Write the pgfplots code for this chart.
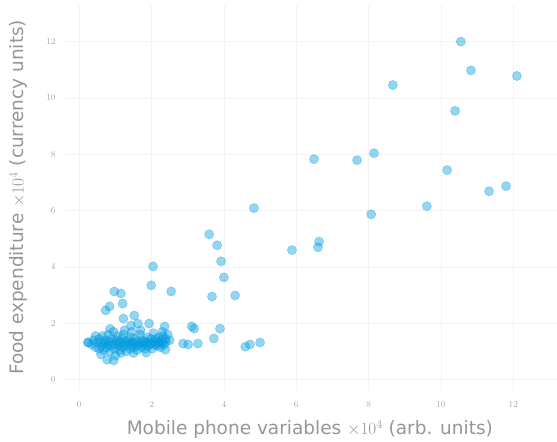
\documentclass[border=0pt]{standalone}
\usepackage{pgfplots}
\pgfplotsset{compat=1.18}
\usepackage{fontspec}
\setmainfont{DejaVu Sans}
\definecolor{pt}{RGB}{0,155,222}
\definecolor{lab}{RGB}{150,150,150}
\definecolor{tck}{RGB}{165,165,165}
\definecolor{grd}{RGB}{243,243,243}
\begin{document}
\begin{tikzpicture}
\begin{axis}[
  scale only axis,
  width=494pt, height=385pt,
  xmin=-0.45, xmax=13.2, ymin=-0.36, ymax=13.3,
  axis line style={draw=none},
  xtick={0,2,...,12}, ytick={0,2,...,12},
  major tick length=0pt,
  grid=major,
  major grid style={grd, line width=0.6pt},
  tick label style={font=\fontsize{9}{9}\selectfont\rmfamily, text=tck},
  xticklabel style={yshift=-8pt},
  yticklabel style={xshift=-4pt},
  xlabel={Mobile phone variables $\times10^4$ (arb. units)},
  ylabel={Food expenditure $\times10^4$ (currency units)},
  label style={font=\fontsize{18.5}{20}\selectfont, text=lab},
  xlabel style={at={(axis description cs:0.5,0)}, anchor=north, yshift=-27pt},
  ylabel style={at={(axis description cs:0,0.5)}, anchor=south, yshift=32pt},
]
\addplot[only marks, mark=*, mark size=4.6pt,
  mark options={fill=pt, draw=pt, fill opacity=0.42, draw opacity=0.35, line width=0.6pt}]
coordinates {
(10.55,12.0) (10.83,10.98) (12.1,10.78) (8.67,10.46) (10.39,9.54)
(6.49,7.83) (7.68,7.79) (8.15,8.04) (10.17,7.44) (11.33,6.69) (11.8,6.87)
(9.61,6.16) (8.07,5.87) (4.83,6.09) (5.88,4.6) (6.63,4.9) (6.6,4.7)
(3.59,5.16) (3.81,4.77) (3.92,4.2) (4.0,3.63) (3.67,2.95) (4.31,2.99)
(3.89,1.81) (3.72,1.46) (2.04,4.02) (1.99,3.35) (2.54,3.13)
(3.11,1.89) (3.18,1.81) (2.87,1.28) (3.01,1.25) (3.28,1.28)
(4.59,1.17) (4.72,1.25) (5.0,1.32)
(0.97,3.13) (1.15,3.06) (1.2,2.7) (0.73,2.46) (0.84,2.6) (1.22,2.17)
(1.52,2.28) (1.43,1.92) (1.62,1.99) (1.93,1.99) (2.36,1.89)
(0.77,0.71) (0.95,0.68) (0.24,1.32) (2.38,1.07) (1.85,0.96)
(0.25,1.32) (0.35,1.25) (0.4,1.4) (0.45,1.15) (0.5,1.3) (0.55,1.45)
(0.55,1.1) (0.6,1.35) (0.62,1.2) (0.65,1.55) (0.68,1.05) (0.7,1.3)
(0.72,1.4) (0.75,1.15) (0.78,1.25) (0.8,1.6) (0.82,1.35) (0.85,1.0)
(0.88,1.2) (0.9,1.45) (0.92,1.3) (0.95,1.7) (0.97,1.1) (1.0,1.25)
(1.02,1.4) (1.05,1.55) (1.08,1.2) (1.1,1.35) (1.12,1.05) (1.15,1.3)
(1.18,1.45) (1.2,1.15) (1.22,1.6) (1.25,1.25) (1.28,1.35) (1.3,1.0)
(1.32,1.2) (1.35,1.4) (1.38,1.3) (1.4,1.1) (1.42,1.5) (1.45,1.25)
(1.48,1.35) (1.5,1.15) (1.52,1.3) (1.55,1.45) (1.58,1.2) (1.6,1.05)
(1.62,1.35) (1.65,1.25) (1.68,1.6) (1.7,1.3) (1.72,1.15) (1.75,1.4)
(1.78,1.25) (1.8,1.35) (1.82,1.1) (1.85,1.3) (1.88,1.5) (1.9,1.2)
(1.92,1.35) (1.95,1.25) (1.98,1.45) (2.0,1.3) (2.02,1.1) (2.05,1.65)
(2.08,1.35) (2.1,1.25) (2.12,1.45) (2.15,1.2) (2.18,1.35) (2.2,1.5)
(2.22,1.3) (2.25,1.15) (2.28,1.4) (2.3,1.3) (2.32,1.55) (2.35,1.25)
(2.38,1.45) (2.4,1.35) (2.45,1.6) (2.5,1.4) (1.25,1.75) (0.85,1.8)
(1.45,1.7) (1.7,1.75) (2.3,1.7) (0.45,1.55) (0.6,0.9) (1.0,0.85)
(1.15,0.95) (1.5,0.95)
};
\end{axis}
\path ([xshift=-63pt,yshift=-52pt]current axis.south west) rectangle ([yshift=5pt]current axis.north east);
\end{tikzpicture}
\end{document}
